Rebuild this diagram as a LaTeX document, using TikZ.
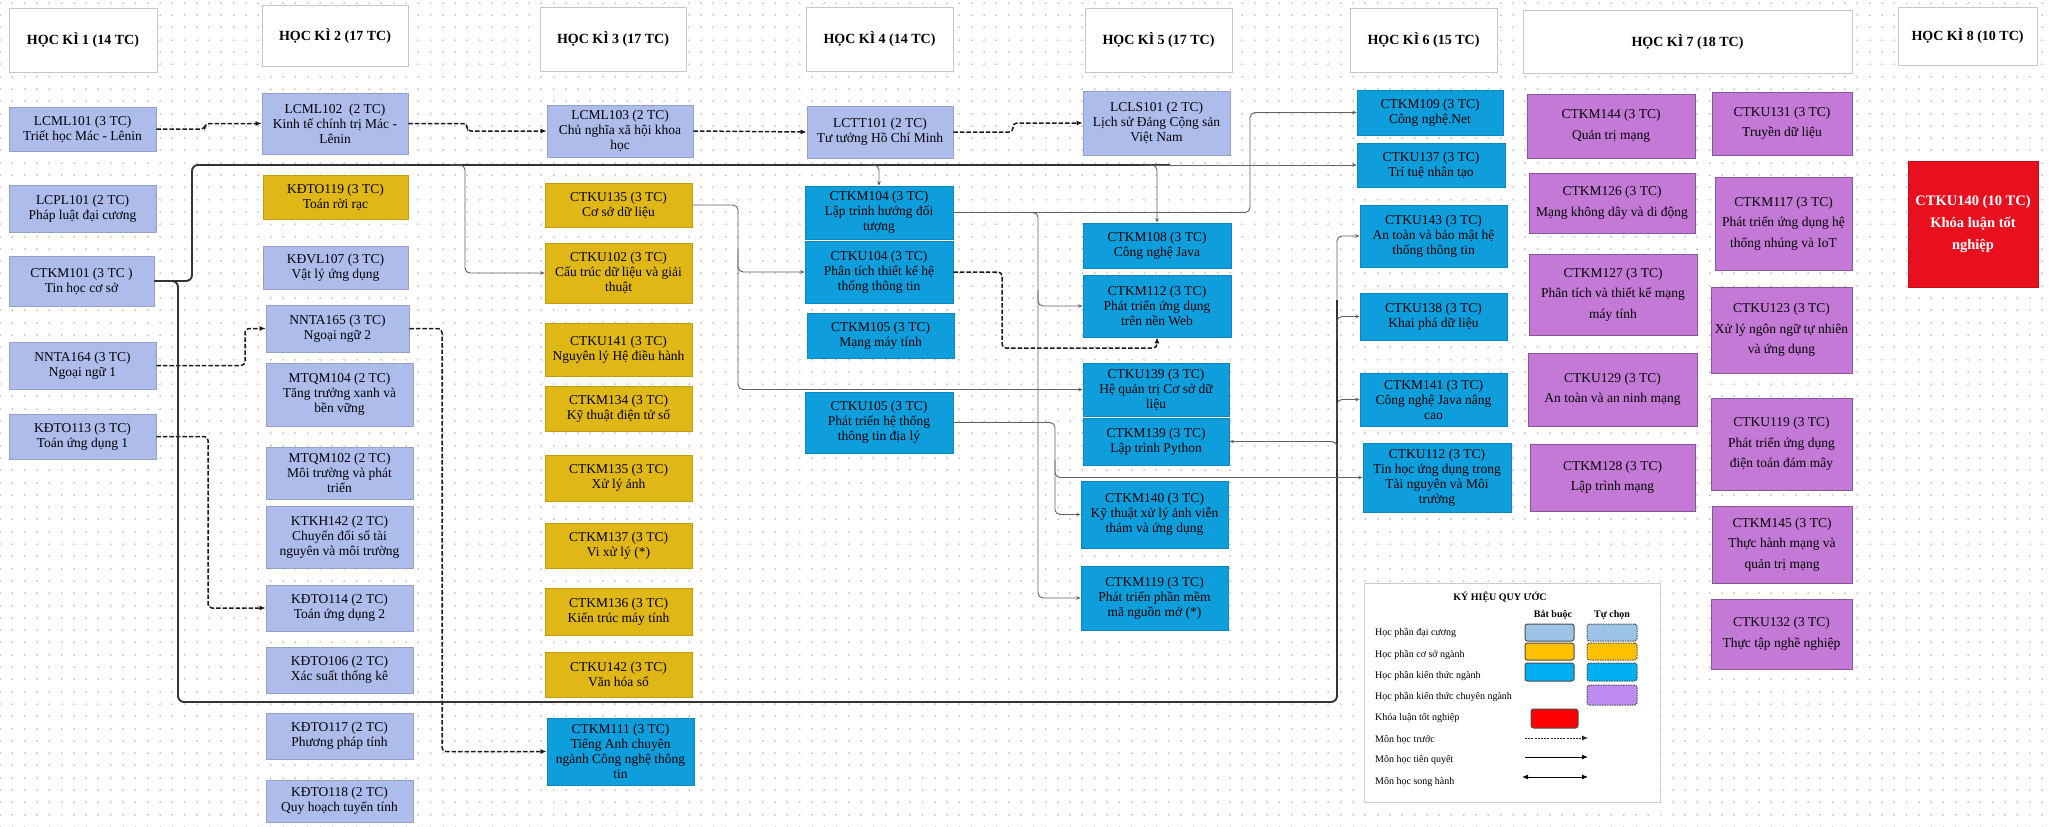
\documentclass[tikz,border=0pt]{standalone}
\usepackage{fontspec}
\setmainfont{Liberation Serif}
\usetikzlibrary{arrows.meta,patterns.meta}
\definecolor{lav}{RGB}{174,188,236}
\definecolor{ylw}{RGB}{223,183,22}
\definecolor{blu}{RGB}{14,158,220}
\definecolor{pur}{RGB}{195,121,213}
\definecolor{rd}{RGB}{232,16,30}
\definecolor{lgA}{RGB}{157,195,230}
\definecolor{lgB}{RGB}{255,192,0}
\definecolor{lgC}{RGB}{0,176,240}
\definecolor{lgD}{RGB}{190,140,240}
\definecolor{lgE}{RGB}{255,0,0}
\pgfdeclarepattern{
  name=gdots, type=uncolored,
  bottom left={\pgfpoint{-1.2pt}{-1.2pt}},
  top right={\pgfpoint{1.2pt}{1.2pt}},
  tile size={\pgfpoint{12.3pt}{12.3pt}},
  code={\pgfsetlinewidth{0.5pt}\pgfpathmoveto{\pgfpoint{-1pt}{0pt}}\pgfpathlineto{\pgfpoint{1pt}{0pt}}\pgfpathmoveto{\pgfpoint{0pt}{-1pt}}\pgfpathlineto{\pgfpoint{0pt}{1pt}}\pgfusepath{stroke}}
}
\newcommand\mkbox[7]{\node[#6, minimum width={(#4)-(#2)}, minimum height={(#5)-(#3)}] (#1) at ({((#2)+(#4))/2},{((#3)+(#5))/2}) {#7};}
\tikzset{
  bx/.style={rectangle, inner sep=0pt, align=center, text=black, font=\fontsize{13.5}{15}\selectfont},
  dc/.style={bx, fill=lav, draw=lav!85!black, line width=0.6pt},
  cs/.style={bx, fill=ylw, draw=ylw!85!black, line width=0.6pt},
  kt/.style={bx, fill=blu, draw=blu!85!black, line width=0.6pt},
  cn/.style={bx, fill=pur, draw=pur!70!black, line width=0.6pt, font=\fontsize{13.5}{20.5}\selectfont},
  kl/.style={bx, fill=rd, draw=rd!85!black, line width=0.6pt, text=white, font=\bfseries\fontsize{14.5}{22}\selectfont},
  hdr/.style={rectangle, inner sep=0pt, fill=white, draw=black!22, line width=1pt, font=\bfseries\fontsize{14}{16}\selectfont},
  dsh/.style={draw=black!90, line width=1.5pt, dash pattern=on 4.5pt off 2pt, rounded corners=4pt, -{Latex[length=6pt,width=5pt]}},
  thn/.style={draw=black!62, line width=0.9pt, rounded corners=5pt, -{Stealth[length=4.5pt,width=3.5pt]}},
  thk/.style={draw=black!80, line width=1.9pt, rounded corners=6pt},
  lgt/.style={anchor=west, inner sep=0pt, font=\fontsize{10}{11}\selectfont},
  lgb/.style={inner sep=0pt, font=\bfseries\fontsize{10}{11}\selectfont},
  swb/.style={rectangle, rounded corners=2.5pt, draw=black!70, line width=1pt, inner sep=0pt},
  swt/.style={rectangle, rounded corners=2.5pt, draw=black!70, line width=1pt, dash pattern=on 1.5pt off 1pt, inner sep=0pt},
}
\begin{document}
\begin{tikzpicture}[x=1pt,y=-1pt]
\useasboundingbox (0,0) rectangle (2051,827);
\fill[white] (0,0) rectangle (2051,827);
\fill[pattern=gdots, pattern color=black!20] (0,0) rectangle (2051,827);

% headers
\mkbox{hA}{9}{8}{157}{72}{hdr}{HỌC KÌ 1 (14 TC)}
\mkbox{hB}{262}{5}{408}{66}{hdr}{HỌC KÌ 2 (17 TC)}
\mkbox{hC}{540}{7}{686}{71}{hdr}{HỌC KÌ 3 (17 TC)}
\mkbox{hD}{806}{7}{953}{71}{hdr}{HỌC KÌ 4 (14 TC)}
\mkbox{hE}{1085}{8}{1232}{72}{hdr}{HỌC KÌ 5 (17 TC)}
\mkbox{hF}{1350}{8}{1497}{72}{hdr}{HỌC KÌ 6 (15 TC)}
\mkbox{hG}{1523}{10}{1852}{73}{hdr}{HỌC KÌ 7 (18 TC)}
\mkbox{hH}{1898}{7}{2037}{65}{hdr}{HỌC KÌ 8 (10 TC)}

% semester 1
\mkbox{LCML101}{9}{107}{156}{151}{dc}{LCML101 (3 TC)\\Triết học Mác - Lênin}
\mkbox{LCPL101}{9}{185}{156}{232}{dc}{LCPL101 (2 TC)\\Pháp luật đại cương}
\mkbox{CTKM101}{9}{256}{154}{306}{dc}{CTKM101 (3 TC )\\Tin học cơ sở}
\mkbox{NNTA164}{9}{342}{156}{389}{dc}{NNTA164 (3 TC)\\Ngoại ngữ 1}
\mkbox{KDTO113}{9}{414}{156}{459}{dc}{KĐTO113 (3 TC)\\Toán ứng dụng 1}

% semester 2
\mkbox{LCML102}{262}{93}{408}{154}{dc}{LCML102 \ (2 TC)\\Kinh tế chính trị Mác -\\Lênin}
\mkbox{KDTO119}{263}{175}{408}{219}{cs}{KĐTO119 (3 TC)\\Toán rời rạc}
\mkbox{KDVL107}{263}{246}{408}{289}{dc}{KĐVL107 (3 TC)\\Vật lý ứng dụng}
\mkbox{NNTA165}{266}{305}{409}{352}{dc}{NNTA165 (3 TC)\\Ngoại ngữ 2}
\mkbox{MTQM104}{266}{363}{413}{426}{dc}{MTQM104 (2 TC)\\Tăng trưởng xanh và\\bền vững}
\mkbox{MTQM102}{266}{447}{413}{499}{dc}{MTQM102 (2 TC)\\Môi trường và phát\\triển}
\mkbox{KTKH142}{266}{506}{413}{568}{dc}{KTKH142 (2 TC)\\Chuyển đổi số tài\\nguyên và môi trường}
\mkbox{KDTO114}{266}{585}{413}{631}{dc}{KĐTO114 (2 TC)\\Toán ứng dụng 2}
\mkbox{KDTO106}{266}{647}{413}{693}{dc}{KĐTO106 (2 TC)\\Xác suất thống kê}
\mkbox{KDTO117}{266}{713}{413}{759}{dc}{KĐTO117 (2 TC)\\Phương pháp tính}
\mkbox{KDTO118}{266}{780}{413}{822}{dc}{KĐTO118 (2 TC)\\Quy hoạch tuyến tính}

% semester 3
\mkbox{LCML103}{547}{105}{693}{157}{dc}{LCML103 (2 TC)\\Chủ nghĩa xã hội khoa\\học}
\mkbox{CTKU135}{545}{183}{692}{227}{cs}{CTKU135 (3 TC)\\Cơ sở dữ liệu}
\mkbox{CTKU102}{545}{243}{692}{303}{cs}{CTKU102 (3 TC)\\Cấu trúc dữ liệu và giải\\thuật}
\mkbox{CTKU141}{545}{323}{692}{376}{cs}{CTKU141 (3 TC)\\Nguyên lý Hệ điều hành}
\mkbox{CTKM134}{545}{386}{692}{431}{cs}{CTKM134 (3 TC)\\Kỹ thuật điện tử số}
\mkbox{CTKM135}{545}{455}{692}{501}{cs}{CTKM135 (3 TC)\\Xử lý ảnh}
\mkbox{CTKM137}{545}{523}{692}{568}{cs}{CTKM137 (3 TC)\\Vi xử lý (*)}
\mkbox{CTKM136}{545}{588}{692}{635}{cs}{CTKM136 (3 TC)\\Kiến trúc máy tính}
\mkbox{CTKU142}{545}{652}{692}{697}{cs}{CTKU142 (3 TC)\\Văn hóa số}
\mkbox{CTKM111}{547}{718}{694}{785}{kt}{CTKM111 (3 TC)\\Tiếng Anh chuyên\\ngành Công nghệ thông\\tin}

% semester 4
\mkbox{LCTT101}{807}{106}{953}{158}{dc}{LCTT101 (2 TC)\\Tư tưởng Hồ Chí Minh}
\mkbox{CTKM104}{805}{186}{953}{239}{kt}{CTKM104 (3 TC)\\Lập trình hướng đối\\tượng}
\mkbox{CTKU104}{805}{241}{953}{303}{kt}{CTKU104 (3 TC)\\Phân tích thiết kế hệ\\thống thông tin}
\mkbox{CTKM105}{807}{313}{954}{358}{kt}{CTKM105 (3 TC)\\Mạng máy tính}
\mkbox{CTKU105}{805}{392}{953}{453}{kt}{CTKU105 (3 TC)\\Phát triển hệ thống\\thông tin địa lý}

% semester 5
\mkbox{LCLS101}{1083}{91}{1230}{155}{dc}{LCLS101 (2 TC)\\Lịch sử Đảng Cộng sản\\Việt Nam}
\mkbox{CTKM108}{1083}{223}{1231}{268}{kt}{CTKM108 (3 TC)\\Công nghệ Java}
\mkbox{CTKM112}{1083}{275}{1231}{337}{kt}{CTKM112 (3 TC)\\Phát triển ứng dụng\\trên nền Web}
\mkbox{CTKU139}{1083}{363}{1229}{416}{kt}{CTKU139 (3 TC)\\Hệ quản trị Cơ sở dữ\\liệu}
\mkbox{CTKM139}{1083}{418}{1229}{465}{kt}{CTKM139 (3 TC)\\Lập trình Python}
\mkbox{CTKM140}{1081}{481}{1228}{548}{kt}{CTKM140 (3 TC)\\Kỹ thuật xử lý ảnh viễn\\thám và ứng dụng}
\mkbox{CTKM119}{1081}{566}{1228}{630}{kt}{CTKM119 (3 TC)\\Phát triển phần mềm\\mã nguồn mở (*)}

% semester 6
\mkbox{CTKM109}{1357}{90}{1503}{135}{kt}{CTKM109 (3 TC)\\Công nghệ.Net}
\mkbox{CTKU137}{1357}{143}{1505}{187}{kt}{CTKU137 (3 TC)\\Trí tuệ nhân tạo}
\mkbox{CTKU143}{1360}{205}{1507}{267}{kt}{CTKU143 (3 TC)\\An toàn và bảo mật hệ\\thống thông tin}
\mkbox{CTKU138}{1360}{293}{1507}{340}{kt}{CTKU138 (3 TC)\\Khai phá dữ liệu}
\mkbox{CTKM141}{1360}{373}{1507}{426}{kt}{CTKM141 (3 TC)\\Công nghệ Java nâng\\cao}
\mkbox{CTKU112}{1363}{443}{1511}{512}{kt}{CTKU112 (3 TC)\\Tin học ứng dụng trong\\Tài nguyên và Môi\\trường}

% semester 7
\mkbox{CTKM144}{1527}{94}{1695}{158}{cn}{CTKM144 (3 TC)\\Quản trị mạng}
\mkbox{CTKM126}{1529}{173}{1695}{233}{cn}{CTKM126 (3 TC)\\Mạng không dây và di động}
\mkbox{CTKM127}{1529}{254}{1697}{335}{cn}{CTKM127 (3 TC)\\Phân tích và thiết kế mạng\\máy tính}
\mkbox{CTKU129}{1528}{353}{1697}{426}{cn}{CTKU129 (3 TC)\\An toàn và an ninh mạng}
\mkbox{CTKM128}{1530}{444}{1695}{511}{cn}{CTKM128 (3 TC)\\Lập trình mạng}
\mkbox{CTKU131}{1712}{92}{1852}{155}{cn}{CTKU131 (3 TC)\\Truyền dữ liệu}
\mkbox{CTKM117}{1715}{177}{1852}{270}{cn}{CTKM117 (3 TC)\\Phát triển ứng dụng hệ\\thống nhúng và IoT}
\mkbox{CTKU123}{1711}{287}{1852}{373}{cn}{CTKU123 (3 TC)\\Xử lý ngôn ngữ tự nhiên\\và ứng dụng}
\mkbox{CTKU119}{1711}{398}{1852}{490}{cn}{CTKU119 (3 TC)\\Phát triển ứng dụng\\điện toán đám mây}
\mkbox{CTKM145}{1712}{506}{1852}{583}{cn}{CTKM145 (3 TC)\\Thực hành mạng và\\quản trị mạng}
\mkbox{CTKU132}{1711}{599}{1852}{669}{cn}{CTKU132 (3 TC)\\Thực tập nghề nghiệp}

% semester 8
\mkbox{CTKU140}{1908}{161}{2038}{287}{kl}{CTKU140 (10 TC)\\Khóa luận tốt\\nghiệp}

% dashed connectors (môn học trước)
\draw[dsh] (LCML101.east) -- (205,129) |- (LCML102.west);
\draw[dsh] (LCML102.east) -- (467,123.5) |- (LCML103.west);
\draw[dsh] (LCML103.east) -- (LCTT101.west);
\draw[dsh] (LCTT101.east) -- (1013,132) |- (LCLS101.west);
\draw[dsh] (NNTA164.east) -- (245,365.5) |- (NNTA165.west);
\draw[dsh] (KDTO113.east) -- (208,436.5) |- (KDTO114.west);
\draw[dsh] (NNTA165.east) -- (442,328.5) |- (CTKM111.west);
\draw[dsh] (CTKU104.east) -- (1002,272) |- (1157,348) -- (CTKM112.south);

% solid connectors from CTKM101
\draw[thk] (CTKM101.east) -- (192,281) -- (192,165) -- (1170,165);
\draw[thn] (1150,165) -- (CTKU137.west);
\draw[thn] (450,165) -- (465,165) |- (CTKU102.west);
\draw[thn] (865,165) -- (879,165) -- (CTKM104.north);
\draw[thn] (1140,165) -- (1157,165) -- (CTKM108.north);
\draw[thk] (CTKM101.east) -- (178,281) -- (178,702) -- (1337,702) -- (1337,300);
\draw[thn] (1337,300) |- (CTKU143.west);
\draw[thn] (1337,340) |- (CTKU138.west);
\draw[thn] (1337,420) |- (CTKM141.west);
\draw[thn] (1337,470) |- (CTKM139.east);

% other solid connectors
\draw[thn] (CTKU135.east) -- (738,205) -- (738,389.5) -- (CTKU139.west);
\draw[thn] (738,250) |- (CTKU104.west);
\draw[thn] (CTKM104.east) -- (1250,212.5) |- (CTKM109.west);
\draw[thn] (CTKM104.east) -- (1038,212.5) |- (CTKM112.west);
\draw[thn] (1038,290) |- (CTKM119.west);
\draw[thn] (CTKU105.east) -- (1055,422.5) |- (CTKM140.west);
\draw[thn] (1055,460) |- (CTKU112.west);

% legend
\node[rectangle, draw=black!20, line width=1pt, fill=white, minimum width=296, minimum height=219, inner sep=0pt] (leg) at (1512,692.5) {};
\node[lgb] (legT) at (1500,597) {KÝ HIỆU QUY ƯỚC};
\node[lgb] (legBB) at (1553,615) {Bắt buộc};
\node[lgb] (legTC) at (1612,615) {Tự chọn};
\node[lgt] (l1) at (1375,633) {Học phần đại cương};
\node[lgt] (l2) at (1375,655) {Học phần cơ sở ngành};
\node[lgt] (l3) at (1375,676) {Học phần kiến thức ngành};
\node[lgt] (l4) at (1375,697) {Học phần kiến thức chuyên ngành};
\node[lgt] (l5) at (1375,718) {Khóa luận tốt nghiệp};
\node[lgt] (l6) at (1375,740) {Môn học trước};
\node[lgt] (l7) at (1375,760) {Môn học tiên quyết};
\node[lgt] (l8) at (1375,782) {Môn học song hành};
\node[swb, fill=lgA, minimum width=49, minimum height=17] (sA) at (1549.5,632.5) {};
\node[swb, fill=lgB, minimum width=49, minimum height=17] (sB) at (1549.5,651.5) {};
\node[swb, fill=lgC, minimum width=49, minimum height=18] (sC) at (1549.5,672) {};
\node[swb, fill=lgE, minimum width=47, minimum height=19] (sE) at (1554.5,718.5) {};
\node[swt, fill=lgA, minimum width=50, minimum height=17] (tA) at (1612,632.5) {};
\node[swt, fill=lgB, minimum width=50, minimum height=17] (tB) at (1612,651.5) {};
\node[swt, fill=lgC, minimum width=50, minimum height=18] (tC) at (1612,672) {};
\node[swt, fill=lgD, minimum width=50, minimum height=20] (tD) at (1612,695) {};
\coordinate (a1s) at (1525,738);
\coordinate (a1e) at (1588,738);
\coordinate (a2s) at (1525,757);
\coordinate (a2e) at (1588,757);
\coordinate (a3s) at (1522,777);
\coordinate (a3e) at (1588,777);
\draw[black!85, line width=0.9pt, dash pattern=on 2pt off 1.2pt, -{Latex[length=6pt,width=5pt]}] (a1s) -- (a1e);
\draw[black, line width=1pt, -{Latex[length=6pt,width=5pt]}] (a2s) -- (a2e);
\draw[black, line width=1pt, {Latex[length=6pt,width=5pt]}-{Latex[length=6pt,width=5pt]}] (a3s) -- (a3e);
\end{tikzpicture}
\end{document}
